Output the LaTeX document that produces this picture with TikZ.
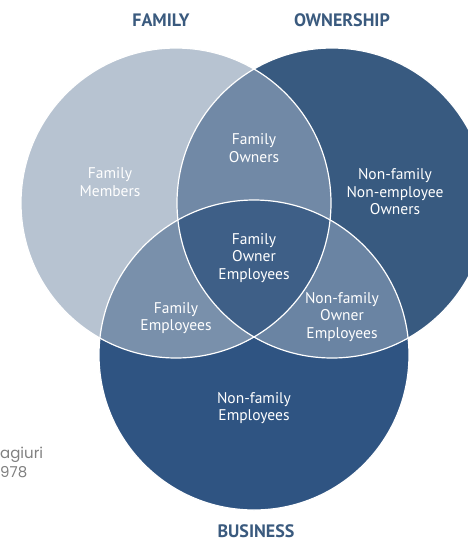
\documentclass[tikz,border=0pt]{standalone}
\usepackage{fontspec}
\setmainfont{PT Sans}
\newfontfamily\notefont{Poppins}
\definecolor{famcol}{HTML}{B7C3D1}
\definecolor{owncol}{HTML}{385A80}
\definecolor{buscol}{HTML}{2F5482}
\definecolor{focol}{HTML}{7189A6}
\definecolor{fbcol}{HTML}{7990AB}
\definecolor{obcol}{HTML}{6A84A3}
\definecolor{allcol}{HTML}{3E5F87}
\definecolor{headcol}{HTML}{3A5A7E}

\begin{document}
\begin{tikzpicture}[x=1pt, y=-1pt,
    area/.style={text=white, align=center, font=\fontsize{15.5}{17.5}\selectfont},
    head/.style={text=headcol, inner sep=1pt, font=\fontsize{18}{20}\selectfont\bfseries}]
			%%%%% START %%%%%
			\useasboundingbox (0,0) rectangle (468,542);
			
			\coordinate (fam) at (176,203);
			\coordinate (own) at (332,203);
			\coordinate (bus) at (254,355);
			
			% the three sets
			\fill[famcol] (fam) circle (155pt);
			\fill[owncol] (own) circle (155pt);
			\fill[buscol] (bus) circle (155pt);
			
			% overlaps
			\begin{scope}
				\clip (fam) circle (155pt);
				\fill[focol] (own) circle (155pt);
				\fill[fbcol] (bus) circle (155pt);
			\end{scope}
			\begin{scope}
				\clip (own) circle (155pt);
				\fill[obcol] (bus) circle (155pt);
			\end{scope}
			\begin{scope}
				\clip (fam) circle (155pt);
				\clip (own) circle (155pt);
				\fill[allcol] (bus) circle (155pt);
			\end{scope}
			
			\draw[white, line width=1.2pt] (fam) circle (155pt);
			\draw[white, line width=1.2pt] (own) circle (155pt);
			\draw[white, line width=1.2pt] (bus) circle (155pt);
			
			% labels
			\node[head] (family) at (161,20) {FAMILY};
			\node[head] (ownership) at (342,20) {OWNERSHIP};
			\node[head] (business) at (256,531) {BUSINESS};
			
			\node[area] (members) at (110,182) {Family\\Members};
			\node[area] (owners) at (254,148) {Family\\Owners};
			\node[area] (outsiders) at (395,192) {Non-family\\Non-employee\\Owners};
			\node[area] (core) at (254,258) {Family\\Owner\\Employees};
			\node[area] (famemp) at (176,318) {Family\\Employees};
			\node[area] (ownemp) at (342,317) {Non-family\\Owner\\Employees};
			\node[area] (staff) at (254,408) {Non-family\\Employees};
			
			\node[anchor=west, inner sep=0pt, text=black!50, align=left,
				font=\notefont\fontsize{15}{19}\selectfont] (source) at (0,462) {agiuri\\978};
			%%%%% END %%%%%
\end{tikzpicture}
\end{document}
